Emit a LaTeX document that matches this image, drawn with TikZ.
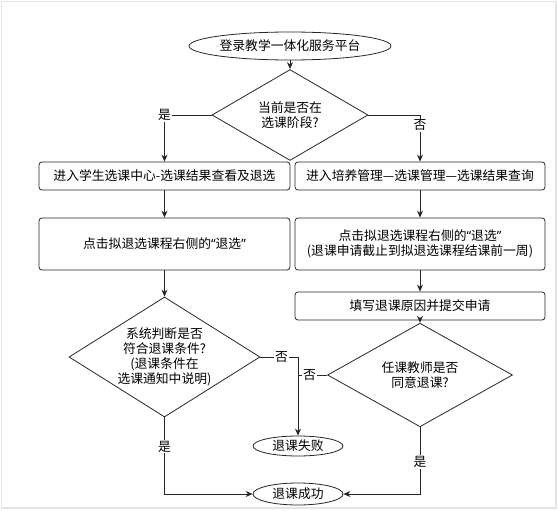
\documentclass[tikz,border=0pt]{standalone}
\usepackage{fontspec}
\setmainfont{Noto Sans CJK SC}
\newfontfamily\latinfont{Noto Sans}
\usepackage{tikz}
\usetikzlibrary{arrows.meta,shapes.geometric}
\usetikzlibrary{positioning}
\newcommand{\quoted}[1]{{\latinfont “}#1{\latinfont ”}}
\tikzstyle{box} = [rectangle, rounded corners=3pt, draw=black!85, inner sep=0pt, text centered, align=center]
\tikzstyle{decision} = [diamond, draw=black!85, inner sep=0pt, align=center]
\tikzstyle{terminal} = [ellipse, draw=black!85, inner sep=0pt]
\tikzstyle{arrow} = [draw=black!85, -{Stealth[length=7pt,width=6pt]}]
\tikzstyle{tag} = [fill=white, inner sep=1pt]

\begin{document}
\begin{tikzpicture}[x=1pt, y=-1pt, line width=0.8pt, font=\fontsize{12.8}{15}\selectfont]

\useasboundingbox (0,0) rectangle (558,511);
\draw[gray!20, line width=1.2pt] (1.5,1.5) rectangle (556,508);

\node (start) [terminal, minimum width=202pt, minimum height=28pt] at (290,46) {登录教学一体化服务平台};
\node (q1) [decision, minimum width=156pt, minimum height=74pt] at (290,115) {当前是否在\\选课阶段?};

\node (left1) [box, minimum width=251pt, minimum height=28pt] at (164.5,176) {进入学生选课中心-选课结果查看及退选};
\node (right1) [box, minimum width=250pt, minimum height=28pt] at (420,176) {进入培养管理—选课管理—选课结果查询};
\node (left2) [box, minimum width=251pt, minimum height=52pt] at (164.5,244) {点击拟退选课程右侧的\quoted{退选}};
\node (right2) [box, minimum width=250pt, minimum height=52pt] at (420,244) {点击拟退选课程右侧的\quoted{退选}\\(退课申请截止到拟退选课程结课前一周)};
\node (right3) [box, minimum width=250pt, minimum height=28pt] at (420,306) {填写退课原因并提交申请};

\node (q2) [decision, shape aspect=1.6, minimum width=191pt, minimum height=120pt] at (164.5,357) {系统判断是否\\符合退课条件?\\(退课条件在\\选课通知中说明)};
\node (q3) [decision, minimum width=185pt, minimum height=74pt] at (420,375) {任课教师是否\\同意退课?};

\node (fail) [terminal, minimum width=90pt, minimum height=20pt] at (298,446) {退课失败};
\node (ok) [terminal, minimum width=90pt, minimum height=22pt] at (298,494) {退课成功};
\coordinate (join) at (q3.west -| fail.north);

\draw[arrow] (start) -- (q1);
\draw[arrow] (q1.west) -| node[tag, pos=0.5] {是} (left1.north);
\draw[arrow] (q1.east) -| node[tag, pos=0.61] {否} (right1.north);
\draw[arrow] (left1) -- (left2);
\draw[arrow] (right1) -- (right2);
\draw[arrow] (left2) -- (q2);
\draw[arrow] (right2) -- (right3);
\draw[arrow] (right3) -- (q3);
\draw[arrow] (q2.east) -| node[tag, pos=0.28] {否} (fail.north);
\draw[draw=black!85] (q3.west) -- node[tag, pos=0.6] {否} (join);
\draw[arrow] (q2.south) |- node[tag, pos=0.19] {是} (ok.west);
\draw[arrow] (q3.south) |- node[tag, pos=0.26] {是} (ok.east);
\end{tikzpicture}
\end{document}
